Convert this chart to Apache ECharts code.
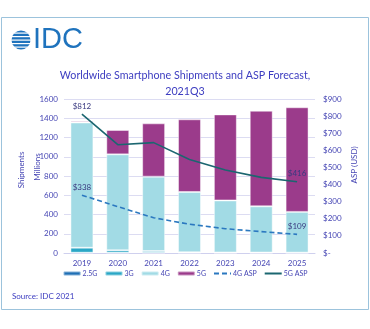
<!DOCTYPE html>
<html><head><meta charset="utf-8">
<script src="https://cdn.jsdelivr.net/npm/echarts@6/dist/echarts.min.js"></script>
<style>html,body{margin:0;padding:0;background:#fff}#c{width:370px;height:329px}</style>
</head><body><div id="c"></div>
<script>
const categories = ['2019','2020','2021','2022','2023','2024','2025'];
const g25 = [3, 3, 2, 1, 1, 1, 1];
const g3 = [52, 25, 18, 7, 5, 4, 3];
const g4 = [1301, 997, 773, 626, 540, 480, 423];
const g5 = [14, 253, 554, 755, 894, 993, 1087];
const asp4g = [338, 271, 206, 168, 142, 125, 109];
const asp5g = [812, 633, 645, 547, 485, 442, 416];
const leftTicks = {min: 0, max: 1600, interval: 200};
const rightTicks = {min: 0, max: 900, interval: 100};

const txt = '#4646b4';
const font = 'Lato';
const chart = echarts.init(document.getElementById('c'));
const barStyle = c => ({color: c, borderColor: 'rgba(255,255,255,0.45)', borderWidth: 1});
const labelFor = (arr) => ({
  show: true, position: 'top', distance: 4, fontSize: 8, fontFamily: font, color: '#3a3a80',
  formatter: p => (p.dataIndex === 0 || p.dataIndex === arr.length - 1) ? '$' + p.value : ''
});
const vtext = (s, x, y) => ({type: 'text', x: x, y: y, rotation: Math.PI / 2,
  style: {text: s, fontSize: 8, fontFamily: font, fill: txt, align: 'center', verticalAlign: 'middle'}});
const stripes = [32.5, 36, 39.5, 43, 46.5].map(y => ({type: 'rect', shape: {x: 9, y: y, width: 24, height: 1.2}, style: {fill: '#fff'}}));

chart.setOption({
  animation: false,
  backgroundColor: '#fff',
  textStyle: {fontFamily: font},
  title: {
    text: 'Worldwide Smartphone Shipments and ASP Forecast,\n2021Q3',
    left: 'center', top: 63,
    textStyle: {fontSize: 10.7, fontWeight: 'normal', color: '#3c3cc0', lineHeight: 16, fontFamily: font}
  },
  graphic: [
    {type: 'rect', shape: {x: 1.5, y: 17.5, width: 367, height: 292}, style: {fill: 'none', stroke: '#9cc3dc', lineWidth: 1}, z: -1},
    {type: 'text', left: 33, top: 25, style: {text: 'IDC', fontSize: 29, fontFamily: 'Liberation Sans', fill: '#1f73bd'}},
    {type: 'circle', shape: {cx: 21, cy: 40, r: 9.5}, style: {fill: '#1f73bd'}},
    ...stripes,
    {type: 'text', left: 12, top: 292, style: {text: 'Source: IDC 2021', fontSize: 8, fontFamily: font, fill: '#3c3cc0'}},
    vtext('Shipments', 21, 170),
    vtext('Millions', 37, 167),
    vtext('ASP (USD)', 354, 165)
  ],
  legend: {
    bottom: 47, left: 'center', itemWidth: 17, itemHeight: 4, itemGap: 7,
    textStyle: {fontSize: 7, color: txt, fontFamily: font, padding: [0, 0, 0, -3]},
    data: ['2.5G', '3G', '4G', '5G',
      {name: '4G ASP', itemStyle: {opacity: 0}},
      {name: '5G ASP', itemStyle: {opacity: 0}}]
  },
  grid: {left: 64, right: 55, top: 99, bottom: 76},
  xAxis: {
    type: 'category', data: categories,
    axisLine: {lineStyle: {color: '#cfd0ee'}}, axisTick: {show: false},
    axisLabel: {fontSize: 8, color: txt, margin: 6}
  },
  yAxis: [
    {type: 'value', ...leftTicks,
     axisLabel: {fontSize: 8, color: txt, margin: 6, formatter: v => String(v)},
     splitLine: {lineStyle: {color: '#dcdcf2'}}},
    {type: 'value', ...rightTicks,
     axisLabel: {fontSize: 8, color: txt, margin: 8, formatter: v => v === 0 ? '$-' : '$' + v},
     splitLine: {show: false}}
  ],
  series: [
    {name: '2.5G', type: 'bar', stack: 's', data: g25, itemStyle: barStyle('#1f6fb5'), barCategoryGap: '36%'},
    {name: '3G', type: 'bar', stack: 's', data: g3, itemStyle: barStyle('#2aa7c6')},
    {name: '4G', type: 'bar', stack: 's', data: g4, itemStyle: barStyle('#a2dbe5')},
    {name: '5G', type: 'bar', stack: 's', data: g5, itemStyle: barStyle('#9b3b8b')},
    {name: '4G ASP', type: 'line', yAxisIndex: 1, data: asp4g, symbol: 'circle', symbolSize: 0.01, showSymbol: true,
     lineStyle: {color: '#2b78c0', width: 1.6, type: [5, 3]}, itemStyle: {color: '#2b78c0'},
     label: labelFor(asp4g)},
    {name: '5G ASP', type: 'line', yAxisIndex: 1, data: asp5g, symbol: 'circle', symbolSize: 0.01, showSymbol: true,
     lineStyle: {color: '#1b6670', width: 1.6}, itemStyle: {color: '#1b6670'},
     label: labelFor(asp5g)}
  ]
});
</script></body></html>
